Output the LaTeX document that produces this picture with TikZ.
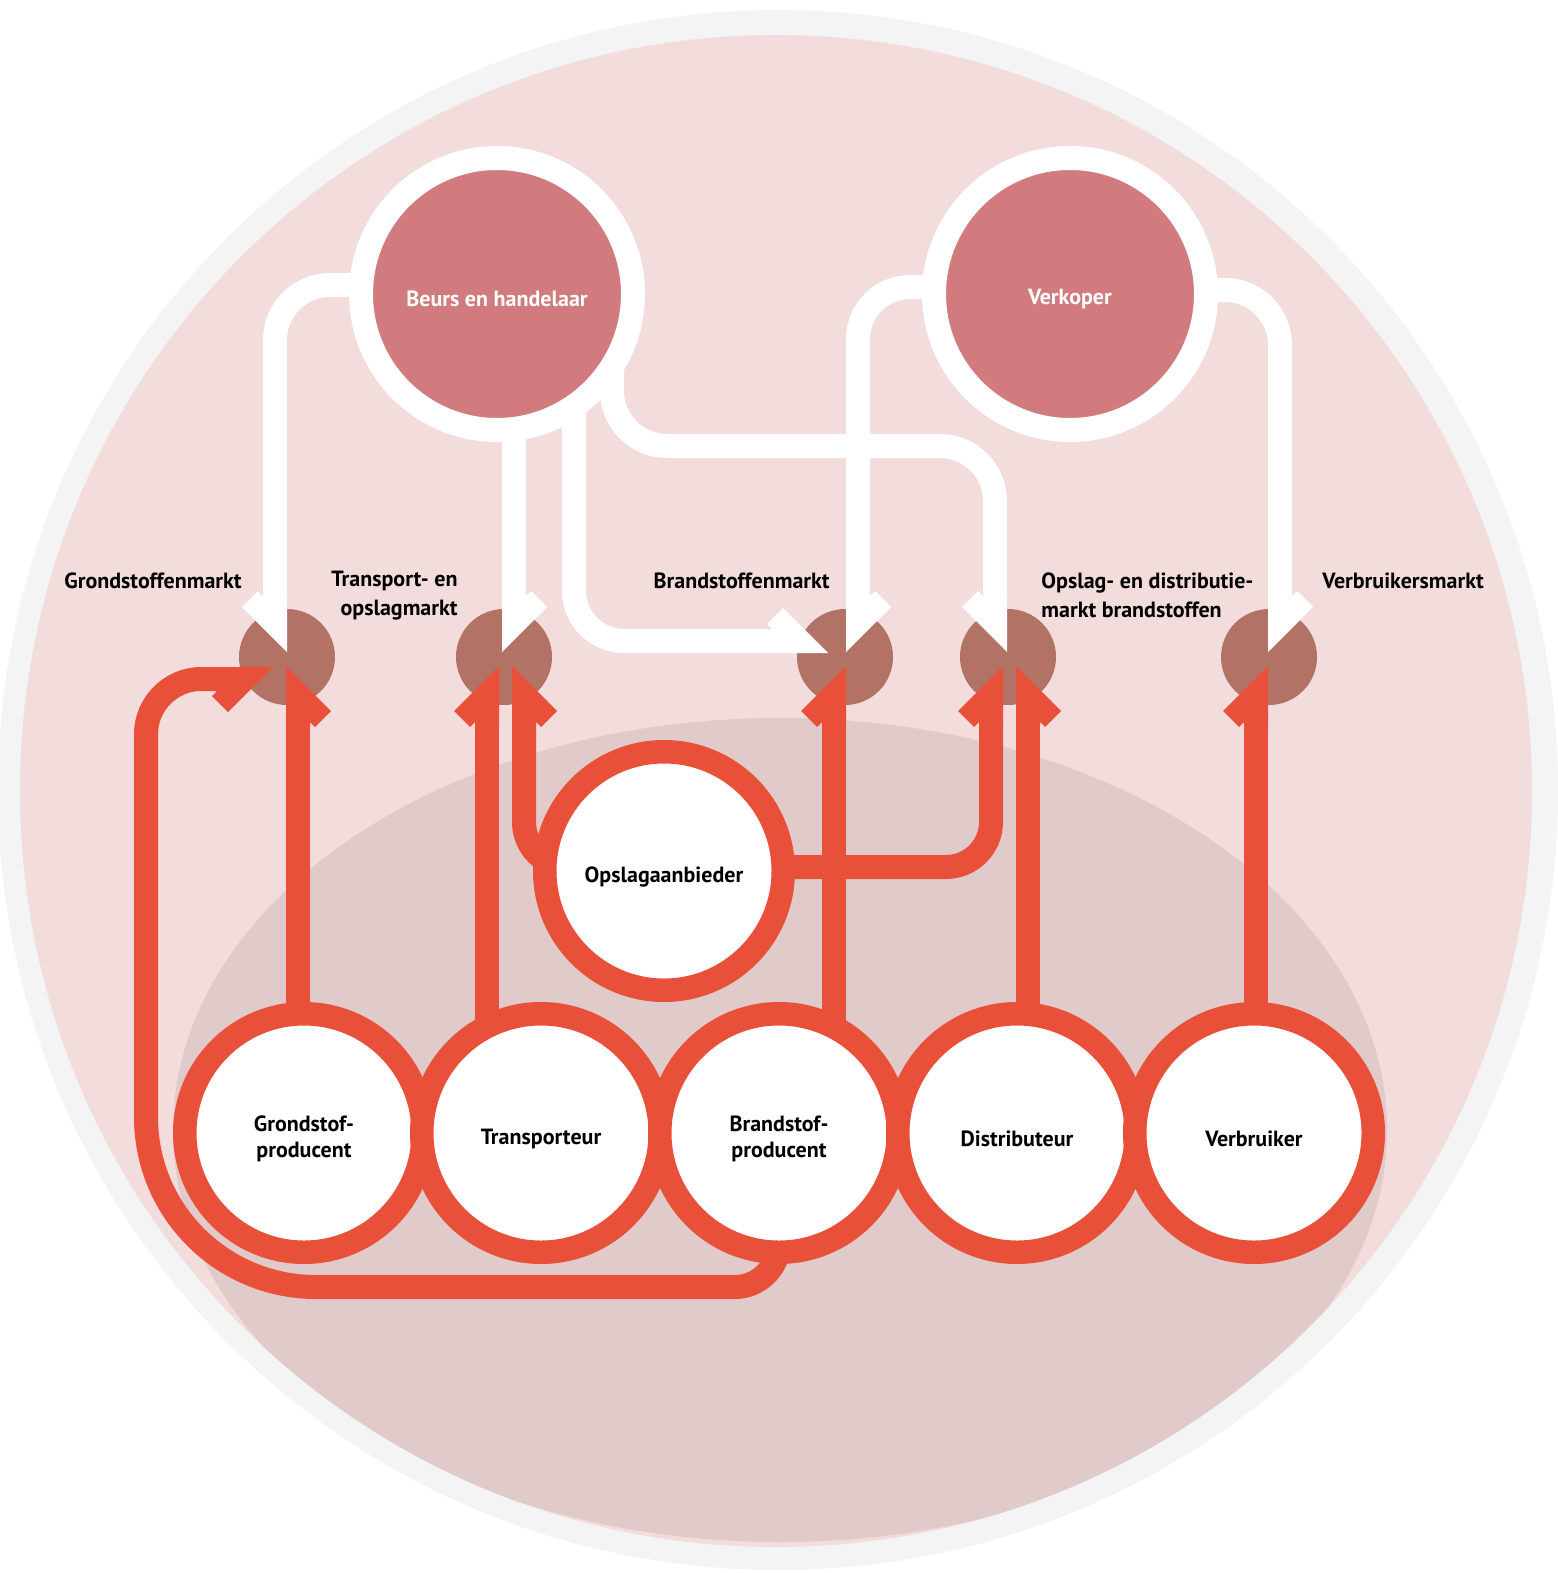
\documentclass[tikz,border=0pt]{standalone}
\usepackage{fontspec}
\setmainfont{PT Sans}
\usetikzlibrary{calc}

\definecolor{ringgrey}{HTML}{F4F4F4}
\definecolor{bgpink}{HTML}{F2DCDC}
\definecolor{bgdark}{HTML}{E0CACA}
\definecolor{partyrose}{HTML}{D17B7E}
\definecolor{marketbrown}{HTML}{B37266}
\definecolor{flowred}{HTML}{E8503A}

\pgfdeclarelayer{backdrop}
\pgfdeclarelayer{flows}
\pgfsetlayers{backdrop,flows,main}

\tikzset{
  txt/.style={font=\fontsize{11pt}{14.5pt}\selectfont\bfseries},
  party/.style={circle, fill=partyrose, draw=white, line width=12pt, minimum size=136pt, inner sep=0pt},
  partytext/.style={inner sep=0pt, text=white, yshift=-2.5pt, txt},
  actor/.style={circle, fill=white, draw=flowred, line width=11.75pt, minimum size=119.25pt, inner sep=0pt},
  actortext/.style={inner sep=0pt, align=center, yshift=-3pt, font=\fontsize{11pt}{13pt}\selectfont\bfseries},
  market/.style={circle, fill=marketbrown, minimum size=48pt, inner sep=0pt},
  marketlabel/.style={inner sep=0pt, txt},
  whiteflow/.style={draw=white, line width=12pt},
  redflow/.style={draw=flowred, line width=12pt}
}

\newcommand{\halfhead}[3]{\fill[#2, shift={#1}, #3] (0,0) -- (-45,-45) -- (-29,-61) -- (-24,-56) -- (-24,-60) -- (0,-60) -- cycle;}

\begin{document}
\begin{tikzpicture}[x=0.5pt, y=-0.5pt]
\useasboundingbox (0,0) rectangle (1557,1573);

\begin{pgfonlayer}{backdrop}
  \fill[ringgrey] (778,790) circle[radius=780];
  \fill[bgpink] (776,791) circle[radius=756];
  \begin{scope}
    \clip (776,791) circle[radius=756];
    \fill[bgdark] (780,1130) ellipse[x radius=607, y radius=412];
  \end{scope}
  \node[market] (gm) at (287,657) {};
  \node[market] (tm) at (504,657) {};
  \node[market] (bm) at (845,657) {};
  \node[market] (om) at (1008,657) {};
  \node[market] (vm) at (1269,657) {};
\end{pgfonlayer}

\node[party] (beurs) at (497,294) {};
\node[partytext] (beursText) at (beurs) {Beurs en handelaar};
\node[party] (verkoper) at (1070,294) {};
\node[partytext] (verkoperText) at (verkoper) {Verkoper};

\node[actor] (opslag) at (664,871) {};
\node[actortext] (opslagText) at (opslag) {Opslagaanbieder};
\node[actor] (gprod) at (304,1133) {};
\node[actortext] (gprodText) at (gprod) {Grondstof-\\producent};
\node[actor] (transp) at (541,1133) {};
\node[actortext] (transpText) at (transp) {Transporteur};
\node[actor] (bprod) at (779,1133) {};
\node[actortext] (bprodText) at (bprod) {Brandstof-\\producent};
\node[actor] (distr) at (1017,1133) {};
\node[actortext] (distrText) at (distr) {Distributeur};
\node[actor] (verbr) at (1254,1133) {};
\node[actortext] (verbrText) at (verbr) {Verbruiker};

\node[marketlabel, anchor=east] (gmLabel) at (242,581) {Grondstoffenmarkt};
\node[marketlabel, anchor=east, align=right] (tmLabel) at (458,596) {Transport- en\\opslagmarkt};
\node[marketlabel, anchor=east] (bmLabel) at (830,581) {Brandstoffenmarkt};
\node[marketlabel, anchor=west, align=left] (omLabel) at (1041,595) {Opslag- en distributie-\\markt brandstoffen};
\node[marketlabel, anchor=west] (vmLabel) at (1322,581) {Verbruikersmarkt};

\coordinate (gmW) at (287,652);
\coordinate (tmW) at (502,652);
\coordinate (bmW) at (828,653);
\coordinate (bmV) at (846,652);
\coordinate (omW) at (1007,652);
\coordinate (vmW) at (1268,652);

\coordinate (gmR) at (286,666);
\coordinate (gmL) at (273,667);
\coordinate (tmR1) at (499,666);
\coordinate (tmR2) at (512,666);
\coordinate (bmR) at (846,666);
\coordinate (omR1) at (1003,666);
\coordinate (omR2) at (1016,666);
\coordinate (vmR) at (1268,666);

\begin{pgfonlayer}{flows}
  \draw[whiteflow, rounded corners=27.5pt] ([yshift=4.5pt]beurs.center) -| ($(gmW)+(-12,-58)$);
  \draw[whiteflow] ($(tmW)+(12,-58)$) |- (beurs.center);
  \draw[whiteflow, rounded corners=25pt] (beurs.center) -| (574,641) -- ($(bmW)+(-58,-12)$);
  \draw[whiteflow, rounded corners=27.5pt] (beurs.center) -| (612,446) -| ($(omW)+(-12,-58)$);
  \draw[whiteflow, rounded corners=26pt] ([yshift=3.5pt]verkoper.center) -| ($(bmV)+(12,-58)$);
  \draw[whiteflow, rounded corners=27.5pt] ([yshift=2pt]verkoper.center) -| ($(vmW)+(12,-58)$);

  \halfhead{(gmW)}{white}{}
  \halfhead{(tmW)}{white}{xscale=-1}
  \halfhead{(bmW)}{white}{rotate=90, xscale=-1}
  \halfhead{(bmV)}{white}{xscale=-1}
  \halfhead{(omW)}{white}{}
  \halfhead{(vmW)}{white}{xscale=-1}

  \draw[redflow] ($(gmR)+(12,58)$) |- (gprod.center);
  \draw[redflow] ($(tmR1)+(-12,58)$) |- (transp.center);
  \draw[redflow, rounded corners=22.5pt] ([yshift=2pt]opslag.center) -| ($(tmR2)+(12,58)$);
  \draw[redflow] ($(bmR)+(-12,58)$) |- (bprod.center);
  \draw[redflow, rounded corners=22.5pt] ([yshift=2pt]opslag.center) -| ($(omR1)+(-12,58)$);
  \draw[redflow] ($(omR2)+(12,58)$) |- (distr.center);
  \draw[redflow] ($(vmR)+(-12,58)$) |- (verbr.center);
  \draw[redflow] (bprod.center) -- (779,1243) .. controls (779,1267) and (759,1287) .. (735,1287)
    -- (316,1287) .. controls (222,1287) and (146,1211) .. (146,1117)
    -- (146,734) .. controls (146,704) and (171,679) .. (201,679) -- ($(gmL)+(-58,12)$);

  \halfhead{(gmR)}{flowred}{rotate=180}
  \halfhead{(gmL)}{flowred}{rotate=90}
  \halfhead{(tmR1)}{flowred}{yscale=-1}
  \halfhead{(tmR2)}{flowred}{rotate=180}
  \halfhead{(bmR)}{flowred}{yscale=-1}
  \halfhead{(omR1)}{flowred}{yscale=-1}
  \halfhead{(omR2)}{flowred}{rotate=180}
  \halfhead{(vmR)}{flowred}{yscale=-1}
\end{pgfonlayer}
\end{tikzpicture}
\end{document}
